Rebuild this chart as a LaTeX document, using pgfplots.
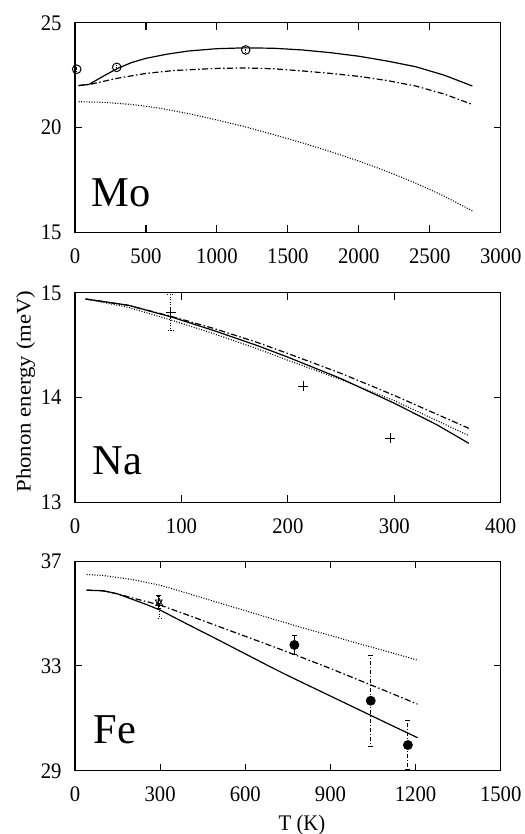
\documentclass[border=0pt]{standalone}
\usepackage{fontspec}
\setmainfont{Liberation Serif}
\usepackage{graphicx}
\usepackage{pgfplots}
\pgfplotsset{compat=1.18}

\newcommand{\vs}[1]{\scalebox{1}[1.075]{#1}}
\tikzset{
  biglab/.style={anchor=base west, inner sep=0pt, font=\fontsize{42.5}{42.5}\selectfont},
  solidc/.style={black, line width=1.2pt},
  dashdotc/.style={black, line width=1.2pt, dash pattern=on 6pt off 2.5pt on 1.5pt off 2.5pt},
  dottedc/.style={black, line width=1.1pt, dash pattern=on 1pt off 1.6pt},
}
\pgfplotsset{
  panel/.style={
    scale only axis, width=425.7pt, height=209.6pt,
    anchor=south west,
    axis line style={line width=1.1pt},
    every tick/.style={line width=1.1pt, black},
    major tick length=7pt, tick align=inside,
    xtick pos=both, ytick pos=both,
    minor tick num=0,
    /pgf/number format/assume math mode=true,
    /pgf/number format/1000 sep={},
    ticklabel style={font=\fontsize{20.7}{20.7}\selectfont, inner sep=0pt},
    xticklabel={\vs{\pgfmathprintnumber{\tick}}},
    yticklabel={\vs{\pgfmathprintnumber{\tick}}},
    yticklabel style={anchor=base east, xshift=-13.3pt, yshift=-7.5pt},
    xticklabel style={anchor=base, yshift=-31pt},
    clip=false,
  },
}

\begin{document}
\begin{tikzpicture}[x=1pt,y=1pt]
\path[use as bounding box] (0,0) rectangle (524,834);

% ---------------- Mo ----------------
\begin{axis}[panel, at={(75pt,601.7pt)},
  xmin=0, xmax=3000, ymin=15, ymax=25,
  xtick={0,500,1000,1500,2000,2500,3000}, ytick={15,20,25}]
\addplot[solidc, no marks] coordinates {
(25,22.0) (100,22.06) (200,22.45) (300,22.82) (400,23.1) (500,23.3) (650,23.5)
(800,23.65) (1000,23.76) (1200,23.8) (1400,23.78) (1600,23.7) (1800,23.57)
(2000,23.4) (2200,23.17) (2400,22.9) (2600,22.5) (2800,21.98)};
\addplot[dashdotc, no marks] coordinates {
(25,22.0) (100,22.05) (200,22.2) (300,22.35) (500,22.58) (700,22.72) (1000,22.82)
(1200,22.84) (1400,22.8) (1600,22.7) (1800,22.58) (2000,22.44) (2200,22.24)
(2400,21.98) (2600,21.6) (2800,21.1)};
\addplot[dottedc, no marks] coordinates {
(25,21.23) (200,21.2) (400,21.1) (600,20.92) (800,20.66) (1000,20.36) (1200,20.03)
(1400,19.66) (1600,19.27) (1800,18.85) (2000,18.4) (2200,17.9) (2400,17.35)
(2600,16.73) (2800,16.02)};
\addplot[black, only marks, mark=o, mark size=4.3pt, mark options={line width=1pt},
  error bars/.cd, y dir=both, y explicit, error mark=none,
  error bar style={line width=0.8pt, dash pattern=on 0.8pt off 1pt}]
  coordinates {(12,22.78) +- (0,0.15) (294,22.87) +- (0,0.15) (1203,23.7) +- (0,0.15)};
\node[biglab] at (axis description cs:0.039,0.122) {Mo};
\end{axis}

% ---------------- Na ----------------
\begin{axis}[panel, at={(75pt,331.7pt)},
  xmin=0, xmax=400, ymin=13, ymax=15,
  xtick={0,100,200,300,400}, ytick={13,14,15}]
\addplot[solidc, no marks] coordinates {
(10,14.94) (50,14.88) (90,14.77) (130,14.64) (170,14.5) (200,14.385) (250,14.18)
(300,13.945) (340,13.74) (370,13.563)};
\addplot[dashdotc, no marks] coordinates {
(10,14.94) (50,14.88) (90,14.775) (130,14.66) (170,14.53) (200,14.42) (250,14.23)
(300,14.02) (340,13.84) (370,13.706)};
\addplot[dottedc, no marks] coordinates {
(10,14.94) (50,14.86) (90,14.74) (130,14.61) (170,14.47) (200,14.355) (250,14.17)
(300,13.97) (340,13.78) (370,13.636)};
\addplot[black, only marks, mark=+, mark size=5pt, mark options={line width=0.9pt},
  error bars/.cd, y dir=both, y explicit,
  error bar style={line width=0.9pt, dash pattern=on 1pt off 1.5pt},
  error mark options={rotate=90, mark size=3.5pt, line width=0.9pt, dash pattern=on 1pt off 1.5pt}]
  coordinates {(90,14.81) +- (0,0.175)};
\addplot[black, only marks, mark=+, mark size=5pt, mark options={line width=0.9pt}]
  coordinates {(214.6,14.11) (296,13.61)};
\node[biglab] at (axis description cs:0.041,0.135) {Na};
\end{axis}

% ---------------- Fe ----------------
\begin{axis}[panel, at={(75pt,63.3pt)},
  xmin=0, xmax=1500, ymin=29, ymax=37,
  xtick={0,300,600,900,1200,1500}, ytick={29,33,37}]
\addplot[solidc, no marks] coordinates {
(41,35.89) (100,35.87) (150,35.75) (200,35.55) (250,35.35) (300,35.13) (400,34.57)
(500,34.02) (600,33.46) (700,32.9) (750,32.63) (800,32.37) (900,31.85) (1000,31.33)
(1100,30.81) (1207,30.26)};
\addplot[dashdotc, no marks] coordinates {
(41,35.89) (100,35.86) (150,35.75) (200,35.6) (300,35.32) (400,34.93) (500,34.53)
(600,34.13) (700,33.73) (800,33.32) (900,32.9) (1000,32.46) (1100,32.02) (1207,31.54)};
\addplot[dottedc, no marks] coordinates {
(41,36.49) (100,36.45) (200,36.3) (300,36.08) (400,35.76) (500,35.43) (600,35.11)
(700,34.78) (800,34.46) (900,34.16) (1000,33.85) (1100,33.55) (1207,33.22)};
% filled circles
\addplot[black, only marks, mark=*, mark size=4.7pt,
  error bars/.cd, y dir=both, y explicit,
  error bar style={line width=0.9pt},
  error mark options={rotate=90, mark size=2.5pt, line width=0.9pt}]
  coordinates {(773,33.8) +- (0,0.37)};
\addplot[black, only marks, mark=*, mark size=4.7pt,
  error bars/.cd, y dir=both, y explicit,
  error bar style={line width=0.9pt, dash pattern=on 4pt off 2pt on 1pt off 2pt},
  error mark options={rotate=90, mark size=2.5pt, line width=0.9pt, solid}]
  coordinates {(1042,31.67) +- (0,1.74) (1173,29.98) +- (0,0.95)};
% triangles at 300 K
\addplot[black, only marks, mark=triangle, mark size=4pt, mark options={line width=0.8pt},
  error bars/.cd, y dir=both, y explicit,
  error bar style={line width=0.8pt, dash pattern=on 1pt off 1.5pt},
  error mark options={rotate=90, mark size=2.5pt, line width=0.8pt, dash pattern=on 1pt off 1.5pt}]
  coordinates {(297,35.38) += (0,0.26) -= (0,0.57)};
\addplot[black, only marks, mark=triangle, mark size=4pt, mark options={line width=0.8pt, rotate=180},
  error bars/.cd, y dir=both, y explicit,
  error bar style={line width=0.8pt},
  error mark options={rotate=90, mark size=2.5pt, line width=0.8pt}]
  coordinates {(295,35.44) +- (0,0.24)};
\node[biglab] at (axis description cs:0.043,0.131) {Fe};
\end{axis}

\node[rotate=90, inner sep=0pt, font=\fontsize{20.7}{20.7}\selectfont] at (25.8,442.5) {\scalebox{1.1}[1]{Phonon energy (meV)}};
\node[inner sep=0pt, font=\fontsize{20.7}{20.7}\selectfont] at (302,8.5) {\vs{T (K)}};
\end{tikzpicture}
\end{document}
